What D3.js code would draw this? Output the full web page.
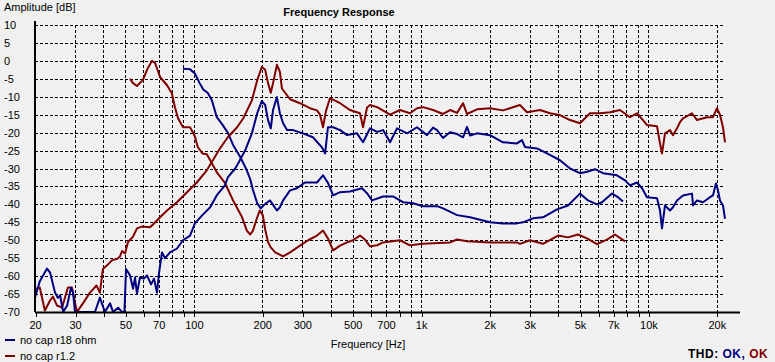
<!DOCTYPE html>
<html>
<head>
<meta charset="utf-8">
<script src="https://cdn.jsdelivr.net/npm/d3@7"></script>
<style>
  body { margin: 0; background: #f0f0f0; }
  text { font-family: "Liberation Sans", Arial, sans-serif; }
</style>
</head>
<body>
<div id="chart"></div>
<script>
/* frequency response, two measurements, each with a full and a partial curve */

// grid frequencies (Hz) and which of them get a label
var gridFreqs = [20, 30, 40, 50, 60, 70, 80, 90, 100, 200, 300, 400, 500, 600, 700, 800, 900,
                 1000, 2000, 3000, 4000, 5000, 6000, 7000, 8000, 9000, 10000, 20000];
var freqLabels = { 20: "20", 30: "30", 50: "50", 70: "70", 100: "100", 200: "200", 300: "300",
                   500: "500", 700: "700", 1000: "1k", 2000: "2k", 3000: "3k", 5000: "5k",
                   7000: "7k", 10000: "10k", 20000: "20k" };
var dbTicks = [10, 5, 0, -5, -10, -15, -20, -25, -30, -35, -40, -45, -50, -55, -60, -65, -70];

// series names
var seriesNames = ["no cap r18 ohm", "no cap r1.2"];

// no cap r18 ohm - main curve [Hz, dB]
var r18Main = [[20,-66],[21,-61.4],[22.6,-57.9],[23.3,-59],[24.5,-64.6],[25.2,-66],[25.8,-65.4],[26.6,-70],
  [27.7,-68.2],[28.8,-63.2],[29.4,-64.6],[30,-70],[36.7,-70],[38.6,-66],[40.6,-70],[42.8,-67.6],[44.1,-70],
  [46.4,-68.8],[48.3,-70],[49.5,-70],[50.3,-58],[52.4,-59.8],[54,-63.5],[55.1,-60.4],[56.2,-64.9],[57.9,-60.4],
  [60.3,-60.7],[62.2,-59.8],[64.8,-62.3],[66.8,-60.7],[68.8,-64.6],[70.3,-59],[72.4,-53.4],[74.7,-55],
  [78.5,-53.4],[84.3,-52.3],[89.6,-50],[96.2,-48.7],[99.1,-46.7],[101,-45.3],[109,-43],[118,-40.8],
  [126,-37.5],[137,-34.7],[141,-32.5],[152,-30],[155,-29.1],[168,-25],[180,-20.2],[190,-14.6],[199,-11.2],
  [206,-12.3],[212,-16.5],[218,-18.8],[223,-13.7],[232,-10.1],[239,-14.6],[247,-17.4],[257,-19.3],
  [273,-19.3],[302,-20.2],[334,-21.3],[366,-24.1],[378,-25.8],[389,-18.5],[410,-18.5],[440,-19.3],
  [472,-20.7],[522,-20.2],[555,-22.7],[596,-18.8],[640,-19.8],[680,-19.3],[730,-22.7],[783,-18.8],
  [867,-20.2],[959,-18.5],[1061,-20.7],[1128,-18.6],[1175,-19.3],[1248,-21.5],[1340,-19.9],[1439,-20.4],
  [1528,-21.3],[1591,-18.4],[1641,-20.8],[1762,-20.2],[2009,-20.7],[2292,-22.7],[2640,-23],[2777,-22.1],
  [2864,-24],[3234,-24.4],[3578,-25.8],[4082,-27.7],[4518,-30],[4998,-31.3],[5368,-30.9],[5818,-30.2],
  [6310,-31.3],[7270,-31.9],[7886,-33.3],[8296,-34.7],[8908,-33.9],[9370,-35.5],[9856,-38],[10908,-38.3],
  [11244,-41.7],[11474,-46.7],[11826,-40.3],[12442,-41.7],[12824,-40.8],[13354,-38.9],[14192,-37.5],
  [15550,-37],[15706,-40.3],[16356,-38.9],[17380,-39.4],[18656,-38],[19232,-37.5],[19826,-34.2],
  [20231,-36.1],[20644,-38.9],[21280,-40.3],[21720,-44]];

// no cap r18 ohm - partial curve
var r18Low = [[89.6,-2.2],[96,-2.3],[101,-3.5],[106,-6.2],[110,-8],[115,-8.9],[120,-11],[126,-15.6],
  [134,-17.9],[141,-20],[149,-23.5],[160,-26.8],[171,-30.5],[177,-33],[182,-36],[190,-39.7],[197,-41.1],
  [205,-40],[216,-38.9],[225,-40.5],[232,-41.7],[239,-40.8],[247,-38.9],[265,-36.1],[284,-35.5],
  [308,-33.9],[348,-33.9],[370,-31.9],[389,-34],[410,-37.5],[440,-36.6],[486,-36.4],[549,-35.5],
  [578,-36.9],[608,-38.9],[680,-37.8],[752,-37.8],[832,-39.4],[921,-39.7],[1019,-40.5],[1175,-40.5],
  [1248,-41.1],[1439,-43],[1641,-43.6],[2009,-45],[2292,-45.3],[2640,-45.3],[2806,-45],[3105,-43.9],
  [3436,-43.6],[3961,-41.4],[4426,-40.3],[4998,-37],[5420,-38.9],[5938,-40],[6248,-39.4],[6912,-37],
  [7346,-38],[7728,-39.2]];

// no cap r1.2 - main curve
var r12Main = [[20,-63.5],[21,-63.2],[22.1,-69.6],[23.3,-66.8],[24,-65.7],[25,-68.2],[26.3,-68.8],
  [27.9,-63.2],[29.1,-63.2],[30,-67.4],[30.6,-70],[32.5,-67.6],[34.9,-64.6],[37.3,-62.6],[38.6,-64.6],
  [39.8,-58],[41.5,-57],[43.6,-55.6],[45.9,-55.2],[47.3,-54.5],[48.3,-53],[49.8,-53.7],[51.3,-50.5],
  [54,-49],[56.2,-46.7],[59.1,-46.2],[64.1,-46.4],[66.1,-45.6],[71,-43.6],[76.2,-41.7],[84.3,-39.4],
  [93.3,-36.6],[103,-33.9],[114,-30.5],[130,-24.5],[141,-21.3],[155,-18.5],[165,-16],[180,-11],
  [190,-5.4],[199,-1.7],[206,-2.5],[212,-6.2],[218,-8.9],[223,-6.2],[232,-1.1],[239,-3],[244,-7.7],
  [265,-10.7],[293,-11.8],[324,-13.2],[348,-13.8],[359,-15],[370,-18.5],[381,-14],[397,-10.4],
  [440,-11.8],[486,-13.7],[538,-14.6],[555,-18.5],[578,-13],[596,-12.3],[640,-12.9],[730,-15],
  [807,-13.7],[893,-14.6],[959,-13.2],[1019,-12.9],[1128,-13.7],[1248,-14.8],[1340,-13.7],[1439,-14.5],
  [1528,-11.8],[1591,-14.8],[1762,-13.5],[2009,-13.2],[2292,-13.8],[2458,-13.2],[2721,-12.3],[2922,-14.3],
  [3333,-13.7],[3688,-14.6],[4082,-15.1],[4518,-16.5],[4998,-17.4],[5532,-14.6],[6122,-14.6],
  [6776,-14.3],[7496,-13.7],[8296,-15.7],[8908,-14.6],[9464,-16.5],[9856,-17.9],[10908,-18.2],
  [11244,-23],[11474,-25.8],[11826,-20.2],[12442,-19.3],[12824,-20.7],[13354,-18.8],[13764,-17.1],
  [14192,-16],[15550,-14.6],[16356,-16.5],[18098,-15.7],[19232,-15.7],[20028,-13.2],[20644,-15],
  [21280,-18.5],[21720,-22.7]];

// no cap r1.2 - partial curve
var r12Low = [[52.4,-5],[54,-6.2],[56.2,-7],[59.7,-5.3],[62.2,-2.5],[65.4,0],[67.5,-0.6],[71,-4.5],
  [76.2,-6.8],[80,-9],[82.6,-13],[85.2,-16],[88.7,-18],[89.6,-18.5],[96.2,-18.5],[101,-21],[104,-24],
  [109,-25.8],[114,-26],[118,-27.7],[126,-31],[137,-34],[149,-39],[163,-43.6],[171,-47.3],[177,-48.4],
  [182,-47.3],[190,-43.6],[195,-41.7],[201,-43],[206,-47],[212,-50.5],[218,-52],[228,-53.4],[247,-54.5],
  [265,-53.4],[293,-51.5],[318,-50],[348,-48.7],[370,-47.3],[389,-49.5],[410,-52.8],[440,-51.5],
  [472,-50.6],[501,-50],[538,-48.7],[566,-49.8],[596,-51.7],[640,-51.4],[680,-50.6],[807,-50],
  [893,-51.4],[1019,-51],[1340,-50.6],[1439,-49.8],[1591,-50.3],[2009,-50.6],[2640,-50.6],[2722,-51],
  [3012,-50],[3436,-51],[4000,-48.7],[4426,-49.2],[4898,-48.4],[5368,-49.5],[5938,-51.1],[6572,-49.8],
  [7124,-48.4],[7886,-50.3]];

var blue = "#000080",
    red = "#800000";

var width = 775,
    height = 362;

var svg = d3.select("#chart").append("svg")
    .attr("width", width)
    .attr("height", height);

// scales
var x = d3.scaleLog().domain([20, 21720]).range([35, 725]);
var y = d3.scaleLinear().domain([-70, 10]).range([312, 25]);

svg.append("defs").append("clipPath").attr("id", "plot")
  .append("rect")
    .attr("x", x.range()[0]).attr("y", y(10) - 1)
    .attr("width", x.range()[1] - x.range()[0] + 1)
    .attr("height", y(-70) - y(10) + 1);

// dashed grid
var grid = svg.append("g")
    .attr("stroke", "#000")
    .attr("stroke-dasharray", "3,2")
    .attr("shape-rendering", "crispEdges");

grid.selectAll(".hgrid")
  .data(dbTicks.filter(function(d) { return d > -70; }))
  .enter().append("line")
    .attr("x1", x(20)).attr("x2", x.range()[1])
    .attr("y1", function(d) { return Math.round(y(d)) + 0.5; })
    .attr("y2", function(d) { return Math.round(y(d)) + 0.5; });

grid.selectAll(".vgrid")
  .data(gridFreqs.filter(function(d) { return d > 20; }))
  .enter().append("line")
    .attr("x1", function(d) { return Math.round(x(d)) + 0.5; })
    .attr("x2", function(d) { return Math.round(x(d)) + 0.5; })
    .attr("y1", y(10)).attr("y2", y(-70));

// bottom axis: small ticks + labels
var xAxis = d3.axisBottom(x)
    .tickValues(gridFreqs)
    .tickSize(5)
    .tickSizeOuter(0)
    .tickFormat(function(d) { return freqLabels[d] || ""; });

var gx = svg.append("g")
    .attr("transform", "translate(0," + y(-70) + ")")
    .call(xAxis);
gx.select(".domain").remove();
gx.selectAll(".tick line")
    .attr("stroke", "#000")
    .attr("shape-rendering", "crispEdges")
    .attr("transform", "translate(0.5,0)");
gx.selectAll(".tick text")
    .attr("y", 9)
    .attr("fill", "#000")
    .style("font-size", "11px")
    .style("font-family", "'Liberation Sans', Arial, sans-serif");

// y labels
svg.append("g").selectAll("text")
  .data(dbTicks)
  .enter().append("text")
    .attr("x", 4)
    .attr("y", function(d) { return y(d) + 4; })
    .style("font-size", "11px")
    .text(function(d) { return d; });

// curves
var line = d3.line()
    .x(function(d) { return x(d[0]); })
    .y(function(d) { return y(Math.max(-70, d[1])); });

var curves = svg.append("g").attr("clip-path", "url(#plot)")
    .attr("fill", "none")
    .attr("stroke-width", 2)
    .attr("stroke-linejoin", "round");

[[r12Low, red], [r18Low, blue], [r12Main, red], [r18Main, blue]].forEach(function(c) {
  curves.append("path")
      .attr("d", line(c[0]))
      .attr("stroke", c[1]);
});

// axis lines
svg.append("line")
    .attr("x1", x(20)).attr("x2", x.range()[1] + 15)
    .attr("y1", y(-70) + 0.5).attr("y2", y(-70) + 0.5)
    .attr("stroke", "#000").attr("stroke-width", 2);
svg.append("line")
    .attr("x1", x(20)).attr("x2", x(20))
    .attr("y1", y(10) - 4).attr("y2", y(-70))
    .attr("stroke", "#000").attr("stroke-width", 2);

// titles
svg.append("text").attr("x", 4).attr("y", 11)
    .style("font-size", "11px").text("Amplitude [dB]");
svg.append("text").attr("x", 339).attr("y", 16)
    .attr("text-anchor", "middle")
    .style("font-size", "11px").style("font-weight", "bold")
    .text("Frequency Response");
svg.append("text").attr("x", 368).attr("y", 348)
    .attr("text-anchor", "middle")
    .style("font-size", "11px").text("Frequency [Hz]");

// legend
var legend = svg.append("g").selectAll("g")
  .data(seriesNames)
  .enter().append("g")
    .attr("transform", function(d, i) { return "translate(5," + (340 + i * 16) + ")"; });
legend.append("line")
    .attr("x1", 0).attr("x2", 10)
    .attr("stroke", function(d, i) { return i === 0 ? blue : red; })
    .attr("stroke-width", 2);
legend.append("text")
    .attr("x", 15).attr("y", 4)
    .style("font-size", "11px")
    .text(function(d) { return d; });

// THD status
var thd = svg.append("text").attr("x", 688).attr("y", 358)
    .style("font-size", "12px").style("font-weight", "bold")
    .style("letter-spacing", "0.5px");
thd.append("tspan").attr("fill", "#000").text("THD:  ");
thd.append("tspan").attr("fill", blue).text("OK, ");
thd.append("tspan").attr("fill", red).text("OK");
</script>
</body>
</html>
